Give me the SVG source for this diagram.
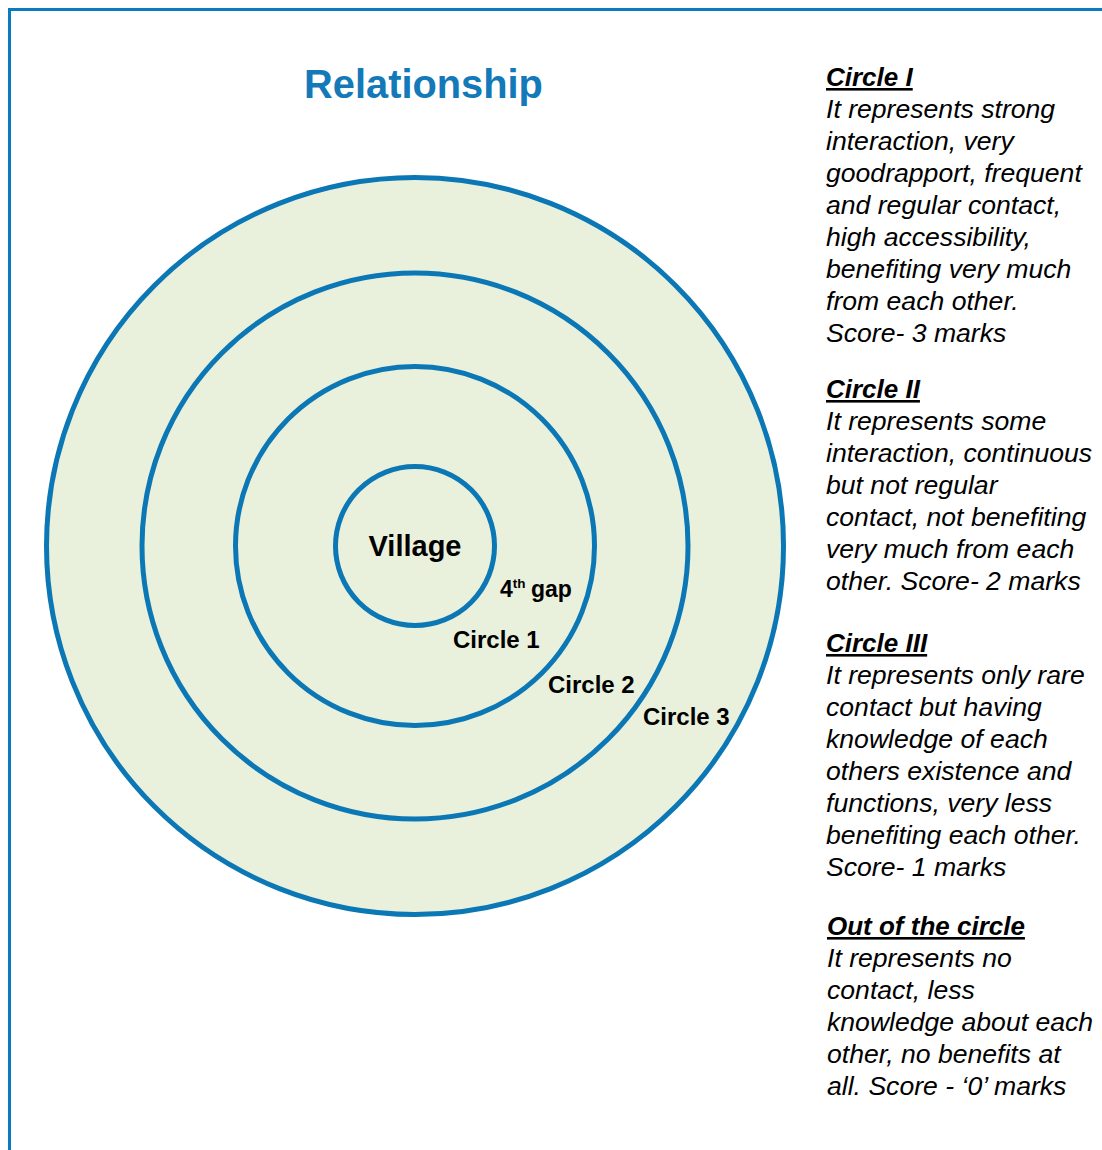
<svg xmlns="http://www.w3.org/2000/svg" width="1102" height="1150" viewBox="0 0 1102 1150">
<style>
.ring{fill:#e9f0dc;stroke:#0b77b5;stroke-width:5}
.lbl{font-family:"Liberation Sans",Arial,sans-serif;font-weight:bold;fill:#000}
.head{font-family:"Liberation Sans",Arial,sans-serif;font-weight:bold;font-style:italic;text-decoration:underline;font-size:26px;fill:#000}
.body{font-family:"Liberation Sans",Arial,sans-serif;font-style:italic;font-size:26.6px;fill:#000}
</style>
<rect width="1102" height="1150" fill="#fff"/>
<path d="M9.5 1150 V9.5 H1102" fill="none" stroke="#0b7bbf" stroke-width="3"/>
<text x="423.5" y="98" text-anchor="middle" font-family="Liberation Sans,Arial,sans-serif" font-weight="bold" font-size="39.8" fill="#1479b8">Relationship</text>
<g id="circle3"><circle class="ring" cx="415" cy="546" r="368.5"/></g>
<g id="circle2"><circle class="ring" cx="415" cy="546" r="273"/></g>
<g id="circle1"><circle class="ring" cx="415" cy="546" r="179.5"/></g>
<g id="village"><circle class="ring" cx="415" cy="546" r="79.5"/>
<text class="lbl" x="415" y="556" text-anchor="middle" font-size="29">Village</text></g>
<g id="labels">
<text class="lbl" x="500" y="597" font-size="23">4<tspan font-size="13.5" dy="-9">th</tspan><tspan dy="9" x="531">gap</tspan></text>
<text class="lbl" x="453" y="648" font-size="24">Circle 1</text>
<text class="lbl" x="548" y="693" font-size="24">Circle 2</text>
<text class="lbl" x="643" y="725" font-size="24">Circle 3</text>
</g>
<g id="connectors"/>
<g id="desc1">
<text class="head" x="826" y="86">Circle I</text>
<text class="body" x="826" y="118">It represents strong</text>
<text class="body" x="826" y="150">interaction, very</text>
<text class="body" x="826" y="182">goodrapport, frequent</text>
<text class="body" x="826" y="214">and regular contact,</text>
<text class="body" x="826" y="246">high accessibility,</text>
<text class="body" x="826" y="278">benefiting very much</text>
<text class="body" x="826" y="310">from each other.</text>
<text class="body" x="826" y="342">Score- 3 marks</text>
</g>
<g id="desc2">
<text class="head" x="826" y="398">Circle II</text>
<text class="body" x="826" y="430">It represents some</text>
<text class="body" x="826" y="462">interaction, continuous</text>
<text class="body" x="826" y="494">but not regular</text>
<text class="body" x="826" y="526">contact, not benefiting</text>
<text class="body" x="826" y="558">very much from each</text>
<text class="body" x="826" y="590">other. Score- 2 marks</text>
</g>
<g id="desc3">
<text class="head" x="826" y="652">Circle III</text>
<text class="body" x="826" y="684">It represents only rare</text>
<text class="body" x="826" y="716">contact but having</text>
<text class="body" x="826" y="748">knowledge of each</text>
<text class="body" x="826" y="780">others existence and</text>
<text class="body" x="826" y="812">functions, very less</text>
<text class="body" x="826" y="844">benefiting each other.</text>
<text class="body" x="826" y="876">Score- 1 marks</text>
</g>
<g id="desc4">
<text class="head" x="827" y="935">Out of the circle</text>
<text class="body" x="827" y="967">It represents no</text>
<text class="body" x="827" y="999">contact, less</text>
<text class="body" x="827" y="1031">knowledge about each</text>
<text class="body" x="827" y="1063">other, no benefits at</text>
<text class="body" x="827" y="1095">all. Score - ‘0’ marks</text>
</g>
</svg>
